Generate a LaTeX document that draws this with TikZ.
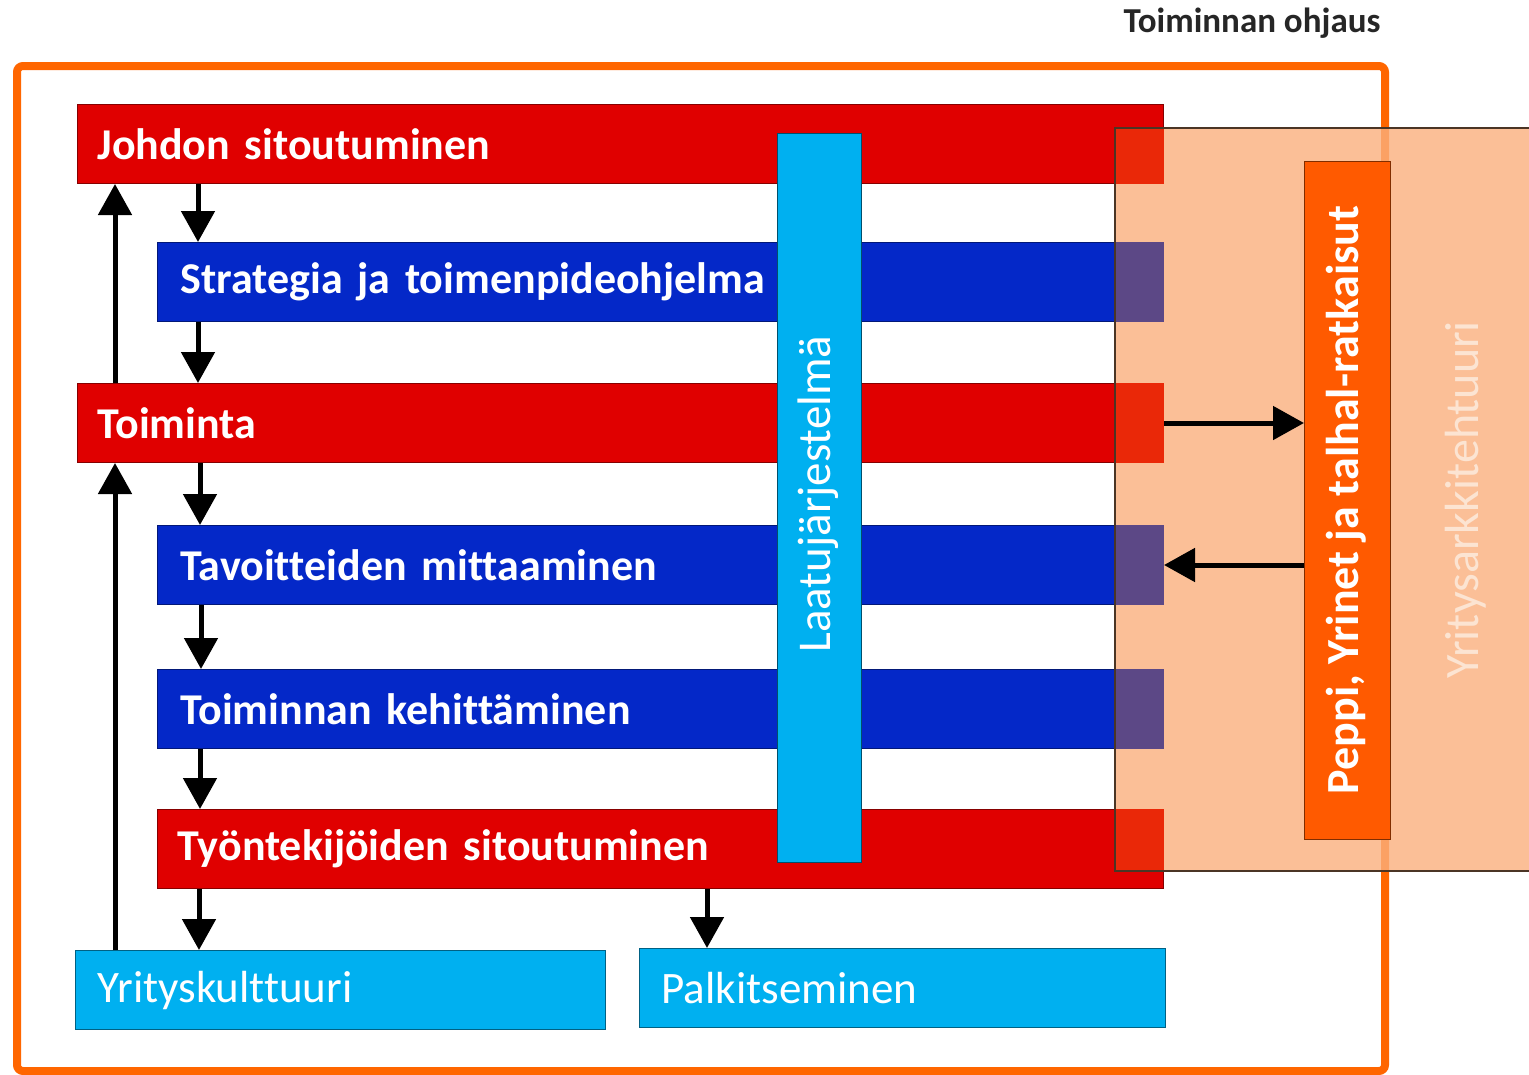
\documentclass[tikz,border=0pt]{standalone}
\usepackage{fontspec}
\setmainfont[Ligatures=NoCommon]{Carlito}
\usetikzlibrary{arrows.meta}
\definecolor{barred}{RGB}{224,0,0}
\definecolor{barblue}{RGB}{4,40,200}
\definecolor{cyanbox}{RGB}{0,176,240}
\definecolor{framec}{RGB}{255,102,0}
\definecolor{peppic}{RGB}{255,90,0}
\definecolor{peachc}{RGB}{250,176,125}
\definecolor{redov}{RGB}{234,40,8}
\definecolor{blueov}{RGB}{92,72,134}
\definecolor{paletext}{RGB}{252,228,210}
\begin{document}
\begin{tikzpicture}[x=1pt,y=-1pt,
  barbox/.style={anchor=north west, minimum height=79pt, inner xsep=#1, inner ysep=0pt,
     align=left, text=white, font=\fontsize{44}{50}\selectfont\bfseries},
  redbar/.style={barbox=20pt, fill=barred, draw=barred!60!black, line width=1pt},
  bluebar/.style={barbox=23pt, fill=barblue, draw=barblue!60!black, line width=1pt},
  cyanbar/.style={anchor=north west, minimum height=79pt, inner xsep=22pt, inner ysep=0pt,
     align=left, text=white, font=\fontsize{45}{50}\selectfont,
     fill=cyanbox, draw=cyanbox!55!black, line width=1pt},
  arr/.style={-{Triangle[length=31pt,width=33pt]}, line width=5pt, draw=black},
  vtext/.style={rotate=90, text=white},
]
\useasboundingbox (0,0) rectangle (1529,1074);
\fill[white] (0,0) rectangle (1529,1074);

% title
\node[anchor=east, font=\fontsize{35}{40}\selectfont\bfseries, text=black!85] (title) at (1384,23) {Toiminnan ohjaus};

% outer frame
\draw[framec, line width=8pt, rounded corners=6pt] (17,66) rectangle (1385,1071);

% bars
\node[redbar, text width=1046pt] (j) at (77,104) {Johdon sitoutuminen};
\node[bluebar, text width=960pt] (s) at (157,242) {Strategia ja toimenpideohjelma};
\node[redbar, text width=1046pt] (t) at (77,383) {Toiminta};
\node[bluebar, text width=960pt] (ta) at (157,525) {Tavoitteiden mittaaminen};
\node[bluebar, text width=960pt] (k) at (157,669) {Toiminnan kehittäminen};
\node[redbar, text width=966pt] (ty) at (157,809) {Työntekijöiden sitoutuminen};

% bottom boxes
\node[cyanbar, text width=486pt] (yk) at (75,950) {Yrityskulttuuri};
\node[cyanbar, text width=482pt] (pa) at (639,948) {Palkitseminen};

% quality system column
\node[anchor=north west, minimum width=84pt, minimum height=729pt, fill=cyanbox,
      draw=cyanbox!45!black, line width=1.2pt] (lj) at (777,133) {};
\node[vtext, font=\fontsize{47}{52}\selectfont] (ljt) at (818,494) {Laatujärjestelmä};

% enterprise architecture
\node[anchor=north west, minimum width=430pt, minimum height=743pt, inner sep=0pt,
      fill=peachc, fill opacity=0.8] (ya) at (1115,128) {};
\fill[redov] (1115,128) rectangle (j.south east);
\fill[blueov] (1115,242) rectangle (s.south east);
\fill[redov] (1115,383) rectangle (t.south east);
\fill[blueov] (1115,525) rectangle (ta.south east);
\fill[blueov] (1115,669) rectangle (k.south east);
\fill[redov] (1115,809) rectangle (ty.east |- 0,871);
\draw[black!70!peachc, line width=1.2pt] (1545,128) -- (1115,128) -- (1115,871) -- (1545,871);
\node[vtext, text=paletext, font=\fontsize{48}{54}\selectfont] (yat) at (1466,500) {Yritysarkkitehtuuri};

% Peppi box
\node[anchor=north west, minimum width=86pt, minimum height=678pt, fill=peppic,
      draw=peppic!50!black, line width=1.2pt] (p) at (1304,161) {};
\node[vtext, font=\fontsize{46}{52}\selectfont\bfseries] (pt) at (1346,500) {Peppi, Yrinet ja talhal-ratkaisut};

% arrows
\draw[arr] ([xshift=121pt]j.south west) -- ([xshift=41pt]s.north west);
\draw[arr] ([xshift=41pt]s.south west) -- ([xshift=121pt]t.north west);
\draw[arr] ([xshift=38pt]t.north west) -- ([xshift=38pt]j.south west);
\draw[arr] ([xshift=123pt]t.south west) -- ([xshift=43pt]ta.north west);
\draw[arr] ([xshift=44pt]ta.south west) -- ([xshift=44pt]k.north west);
\draw[arr] ([xshift=43pt]k.south west) -- ([xshift=43pt]ty.north west);
\draw[arr] ([xshift=42pt]ty.south west) -- ([xshift=124pt]yk.north west);
\draw[arr] ([xshift=550pt]ty.south west) -- ([xshift=68pt]pa.north west);
\draw[arr] ([xshift=40pt]yk.north west) -- ([xshift=38pt]t.south west);
\draw[arr] (t.east) -- (p.west |- t.east);
\draw[arr] (p.west |- ta.east) -- (ta.east);
\end{tikzpicture}
\end{document}
